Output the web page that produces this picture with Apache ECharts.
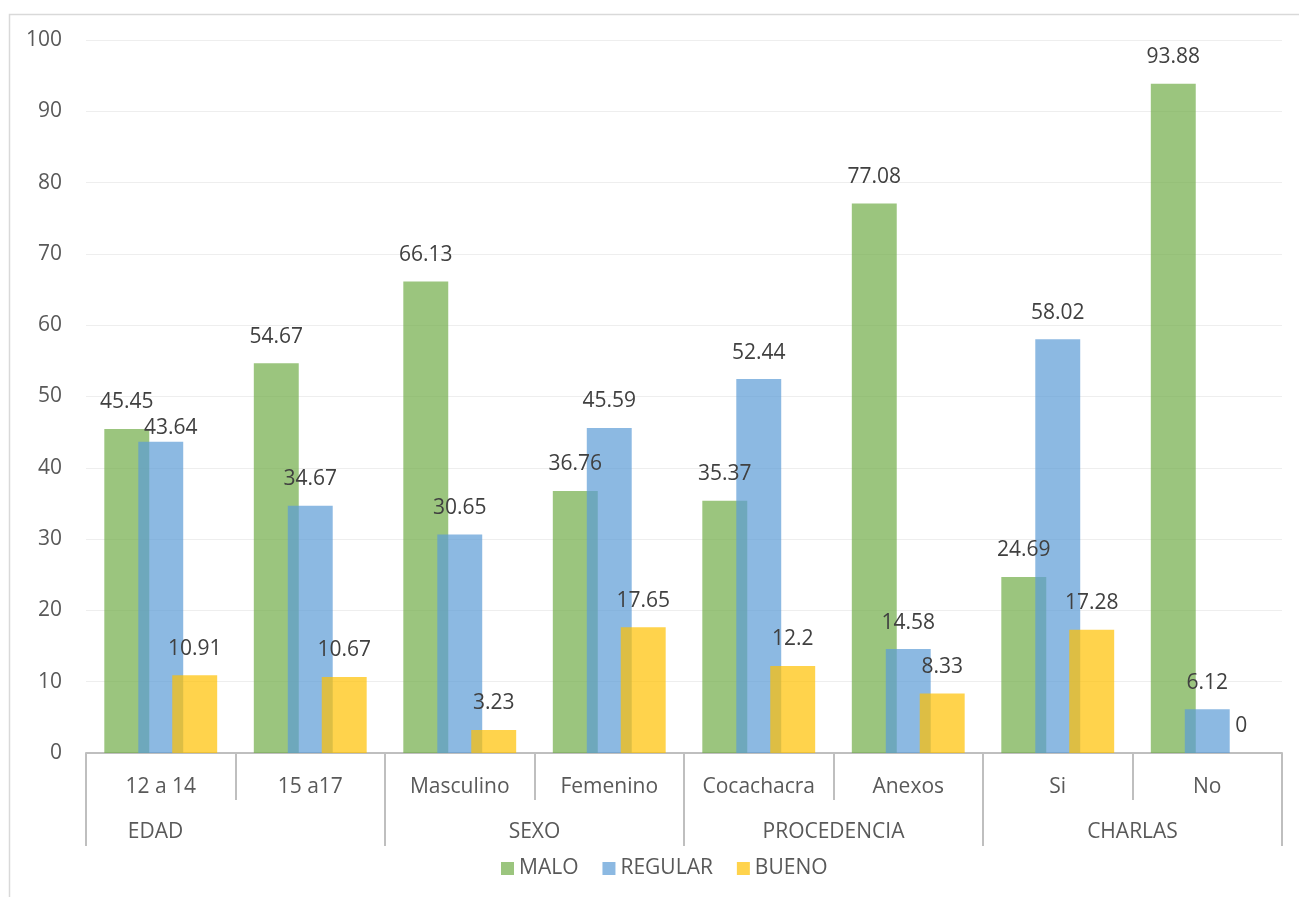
<!DOCTYPE html>
<html>
<head>
<meta charset="utf-8">
<style>html,body{margin:0;padding:0;background:#fff;}#c{width:1299px;height:897px;}</style>
<script src="https://cdn.jsdelivr.net/npm/echarts@6/dist/echarts.min.js"></script>
</head>
<body>
<div id="c"></div>
<script>
const categories = ['12 a 14', '15 a17', 'Masculino', 'Femenino', 'Cocachacra', 'Anexos', 'Si', 'No'];
const groups = ['EDAD', 'SEXO', 'PROCEDENCIA', 'CHARLAS'];
const malo = [45.45, 54.67, 66.13, 36.76, 35.37, 77.08, 24.69, 93.88];
const regular = [43.64, 34.67, 30.65, 45.59, 52.44, 14.58, 58.02, 6.12];
const bueno = [10.91, 10.67, 3.23, 17.65, 12.2, 8.33, 17.28, 0];
const yTicks = [0, 10, 20, 30, 40, 50, 60, 70, 80, 90, 100];

const FONT = 'Open Sans';
const labelStyle = {show: true, position: 'top', distance: 16, color: '#404040', fontSize: 21, fontFamily: FONT};

function mk(name, vals, color, overrides) {
  return {
    name: name, type: 'bar', xAxisIndex: 0,
    barCategoryGap: '24.5%', barGap: '-24.4%',
    itemStyle: {color: color},
    label: labelStyle,
    emphasis: {disabled: true},
    data: vals.map((v, i) => overrides && overrides[i] ? {value: v, label: overrides[i]} : v)
  };
}

const chart = echarts.init(document.getElementById('c'));
chart.setOption({
  animation: false,
  graphic: [{type: 'rect', left: 7, top: 12, shape: {width: 1310, height: 900}, style: {fill: 'none', stroke: '#D9D9D9', lineWidth: 1.5}, z: -1}],
  grid: {left: 86, right: 17, top: 40, bottom: 144},
  legend: {
    data: ['MALO', 'REGULAR', 'BUENO'], top: 853, left: 496,
    itemWidth: 13, itemHeight: 13, itemGap: 24, icon: 'rect',
    textStyle: {fontSize: 21, color: '#595959', fontFamily: FONT}
  },
  yAxis: {
    type: 'value', min: yTicks[0], max: yTicks[yTicks.length - 1], interval: 10,
    axisLine: {show: false}, axisTick: {show: false},
    axisLabel: {fontSize: 21, color: '#595959', fontFamily: FONT, margin: 24},
    splitLine: {lineStyle: {color: '#EEEEEE', width: 1}}
  },
  xAxis: [
    {
      type: 'category', data: categories, position: 'bottom', boundaryGap: true,
      axisLine: {show: true, lineStyle: {color: '#BFBFBF', width: 2}},
      axisTick: {show: true, alignWithLabel: false, interval: 0, length: 47, lineStyle: {color: '#BFBFBF', width: 2}},
      axisLabel: {fontSize: 21, color: '#595959', fontFamily: FONT, margin: 24, interval: 0}
    },
    {
      type: 'category', position: 'bottom', boundaryGap: true,
      data: groups.map((g, i) => i === 0 ? {value: g, textStyle: {padding: [0, 160, 0, 0]}} : g),
      axisLine: {show: false},
      axisTick: {show: true, alignWithLabel: false, interval: 0, length: 93, lineStyle: {color: '#BFBFBF', width: 2}},
      axisLabel: {fontSize: 21, color: '#595959', fontFamily: FONT, margin: 69, interval: 0}
    }
  ],
  series: [
    mk('MALO', malo, 'rgba(112,173,71,0.7)'),
    mk('REGULAR', regular, 'rgba(91,155,213,0.7)', {0: {offset: [10, 13]}}),
    mk('BUENO', bueno, 'rgba(255,192,0,0.7)')
  ]
});
</script>
</body>
</html>
